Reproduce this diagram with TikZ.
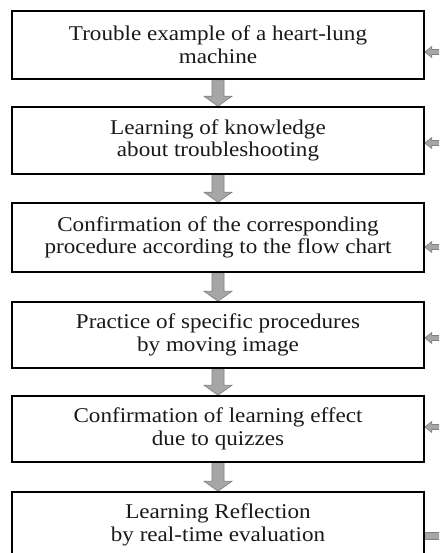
\documentclass[tikz,border=0pt]{standalone}
\usepackage{fontspec}
\setmainfont{Liberation Serif}[FakeStretch=1.1]
\usetikzlibrary{calc}
\definecolor{arrfill}{HTML}{A6A6A6}
\definecolor{arrline}{HTML}{808080}
\tikzset{
  box/.style={draw=black, line width=1.5pt, fill=white, minimum width=412pt,
    align=center, inner sep=2pt, text=black!90,
    font={\fontsize{21}{22.7}\selectfont}},
  blockfill/.style={fill=arrfill, draw=arrline, line width=0.6pt, line join=miter},
}
\newcommand\blockdown[2]{%
  \path[blockfill] ($(#1.south)+(-6,0)$) -- ($(#2.north)+(-6,-10)$)
    -- ($(#2.north)+(-14,-10)$) -- (#2.north) -- ($(#2.north)+(14,-10)$)
    -- ($(#2.north)+(6,-10)$) -- ($(#1.south)+(6,0)$) -- cycle;}
\newcommand\blockleft[2]{%
  \path[blockfill] (#1) ++(0,-2.5) -- ($(#2 |- #1)+(7,-2.5)$)
    -- ($(#2 |- #1)+(7,-5.5)$) -- (#2 |- #1) -- ($(#2 |- #1)+(7,5.5)$)
    -- ($(#2 |- #1)+(7,2.5)$) -- ($(#1)+(0,2.5)$) -- cycle;}
\begin{document}
\begin{tikzpicture}[x=1pt,y=-1pt]
\useasboundingbox (0,0) rectangle (439,553);
\clip (0,0) rectangle (439,553);
\fill[white] (0,0) rectangle (439,553);
% box positions (coordinates only, boxes drawn later on top)
\coordinate (p1) at (218,45);
\coordinate (p2) at (218,140.5);
\coordinate (p3) at (218,237.5);
\coordinate (p4) at (218,335);
\coordinate (p5) at (218,429);
\coordinate (p6) at (218,525);
% feedback free ends
\coordinate (e1) at (445,52);
\coordinate (e2) at (445,143);
\coordinate (e3) at (445,247);
\coordinate (e4) at (445,338);
\coordinate (e5) at (445,427);
\coordinate (e6) at (445,535.5);
% boxes drawn as phantom first to get anchors
\node[box, draw=none, fill=none, text opacity=0, minimum height=68pt] (b1) at (p1) {Trouble example of a heart-lung\\machine};
\node[box, draw=none, fill=none, text opacity=0, minimum height=67pt] (b2) at (p2) {Learning of knowledge\\ about troubleshooting};
\node[box, draw=none, fill=none, text opacity=0, minimum height=69pt] (b3) at (p3) {Confirmation of the corresponding\\procedure according to the flow chart};
\node[box, draw=none, fill=none, text opacity=0, minimum height=66pt] (b4) at (p4) {Practice of specific procedures\\by moving image};
\node[box, draw=none, fill=none, text opacity=0, minimum height=66pt] (b5) at (p5) {Confirmation of learning effect\\due to quizzes};
\node[box, draw=none, fill=none, text opacity=0, minimum height=66pt] (b6) at (p6) {Learning Reflection\\by real-time evaluation};
% down arrows
\blockdown{b1}{b2}
\blockdown{b2}{b3}
\blockdown{b3}{b4}
\blockdown{b4}{b5}
\blockdown{b5}{b6}
% feedback arrows on the right
\blockleft{e1}{b1.east}
\blockleft{e2}{b2.east}
\blockleft{e3}{b3.east}
\blockleft{e4}{b4.east}
\blockleft{e5}{b5.east}
\path[blockfill] ($(b6.east |- e6)+(-1,-3.5)$) rectangle ($(e6)+(0,3.5)$);
% visible boxes
\node[box, minimum height=68pt] (B1) at (p1) {Trouble example of a heart-lung\\machine};
\node[box, minimum height=67pt] (B2) at (p2) {Learning of knowledge\\ about troubleshooting};
\node[box, minimum height=69pt] (B3) at (p3) {Confirmation of the corresponding\\procedure according to the flow chart};
\node[box, minimum height=66pt] (B4) at (p4) {Practice of specific procedures\\by moving image};
\node[box, minimum height=66pt] (B5) at (p5) {Confirmation of learning effect\\due to quizzes};
\node[box, minimum height=66pt] (B6) at (p6) {Learning Reflection\\by real-time evaluation};
\end{tikzpicture}
\end{document}
